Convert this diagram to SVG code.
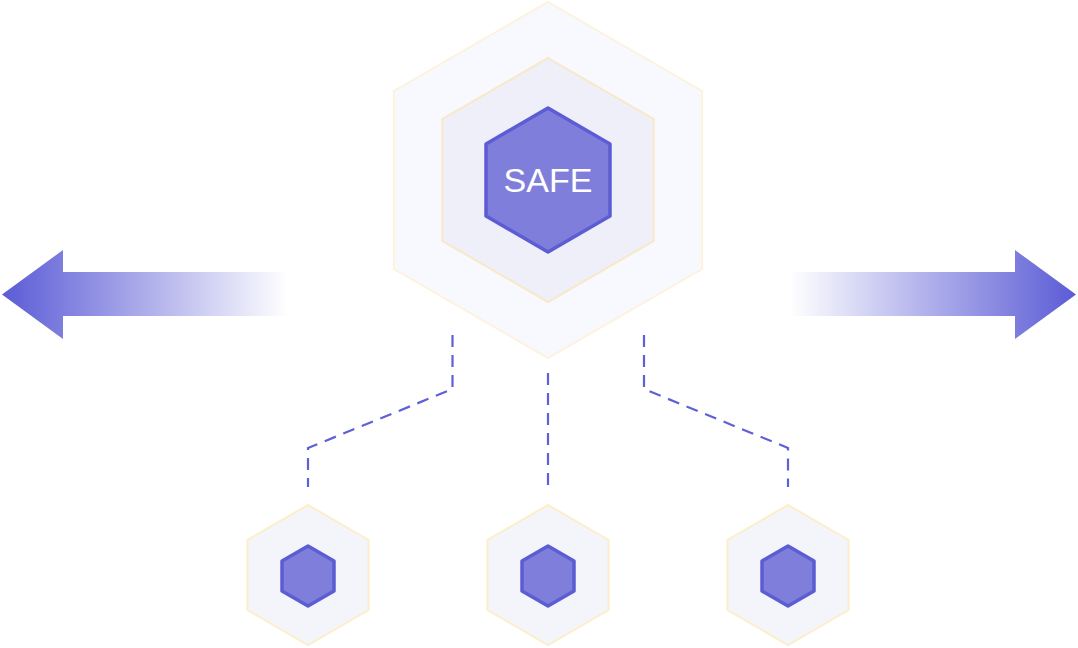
<svg xmlns="http://www.w3.org/2000/svg" width="1078" height="648" viewBox="0 0 1078 648">
  <defs>
    <style>
      .hex-outer { fill: #f8f9fe; stroke: #fdf2dc; stroke-width: 2; }
      .hex-mid { fill: #efeff9; stroke: #f9e8c6; stroke-width: 2; }
      .hex-core { fill: #7f7fdb; stroke: #5c5cd5; stroke-width: 3.5; stroke-linejoin: round; }
      .hex-small { fill: #f4f5fb; stroke: #fdedcb; stroke-width: 2; }
      .dash { fill: none; stroke: #5f5fd8; stroke-width: 2.2; stroke-dasharray: 12 8; }
      .label { font-family: "Liberation Sans", Arial, sans-serif; font-size: 34px; fill: #ffffff; text-anchor: middle; }
    </style>
    <linearGradient id="gradL" gradientUnits="userSpaceOnUse" x1="2" y1="0" x2="288" y2="0">
      <stop offset="0" stop-color="#5b5bd6" stop-opacity="1"/>
      <stop offset="1" stop-color="#5b5bd6" stop-opacity="0"/>
    </linearGradient>
    <linearGradient id="gradR" gradientUnits="userSpaceOnUse" x1="1076" y1="0" x2="790" y2="0">
      <stop offset="0" stop-color="#5b5bd6" stop-opacity="1"/>
      <stop offset="1" stop-color="#5b5bd6" stop-opacity="0"/>
    </linearGradient>
    <polygon id="smallOuter" points="0,-70 60.6,-35 60.6,35 0,70 -60.6,35 -60.6,-35"/>
    <polygon id="smallInner" points="0,-30 26,-15 26,15 0,30 -26,15 -26,-15"/>
  </defs>

  <g id="arrow-left">
    <polygon points="2,294.5 63,250 63,272 288,272 288,316 63,316 63,339" fill="url(#gradL)"/>
  </g>
  <g id="arrow-right">
    <polygon points="1076,294.5 1015,250 1015,272 790,272 790,316 1015,316 1015,339" fill="url(#gradR)"/>
  </g>

  <g id="safe-node">
    <polygon class="hex-outer" points="548,2 702.1,91 702.1,269 548,358 393.9,269 393.9,91"/>
    <polygon class="hex-mid" points="548,58 653.7,119 653.7,241 548,302 442.3,241 442.3,119"/>
    <polygon class="hex-core" points="548,108 610,144 610,216 548,252 486,216 486,144"/>
    <text class="label" x="548" y="192">SAFE</text>
  </g>

  <g id="connectors">
    <polyline class="dash" points="452.5,335 452.5,389 308,448 308,487"/>
    <polyline class="dash" points="548,373 548,487"/>
    <polyline class="dash" points="644,335 644,389 788,448 788,487"/>
  </g>

  <g id="node-left">
    <use href="#smallOuter" x="308" y="575" class="hex-small"/>
    <use href="#smallInner" x="308" y="576" class="hex-core"/>
  </g>
  <g id="node-center">
    <use href="#smallOuter" x="548" y="575" class="hex-small"/>
    <use href="#smallInner" x="548" y="576" class="hex-core"/>
  </g>
  <g id="node-right">
    <use href="#smallOuter" x="788" y="575" class="hex-small"/>
    <use href="#smallInner" x="788" y="576" class="hex-core"/>
  </g>
</svg>
